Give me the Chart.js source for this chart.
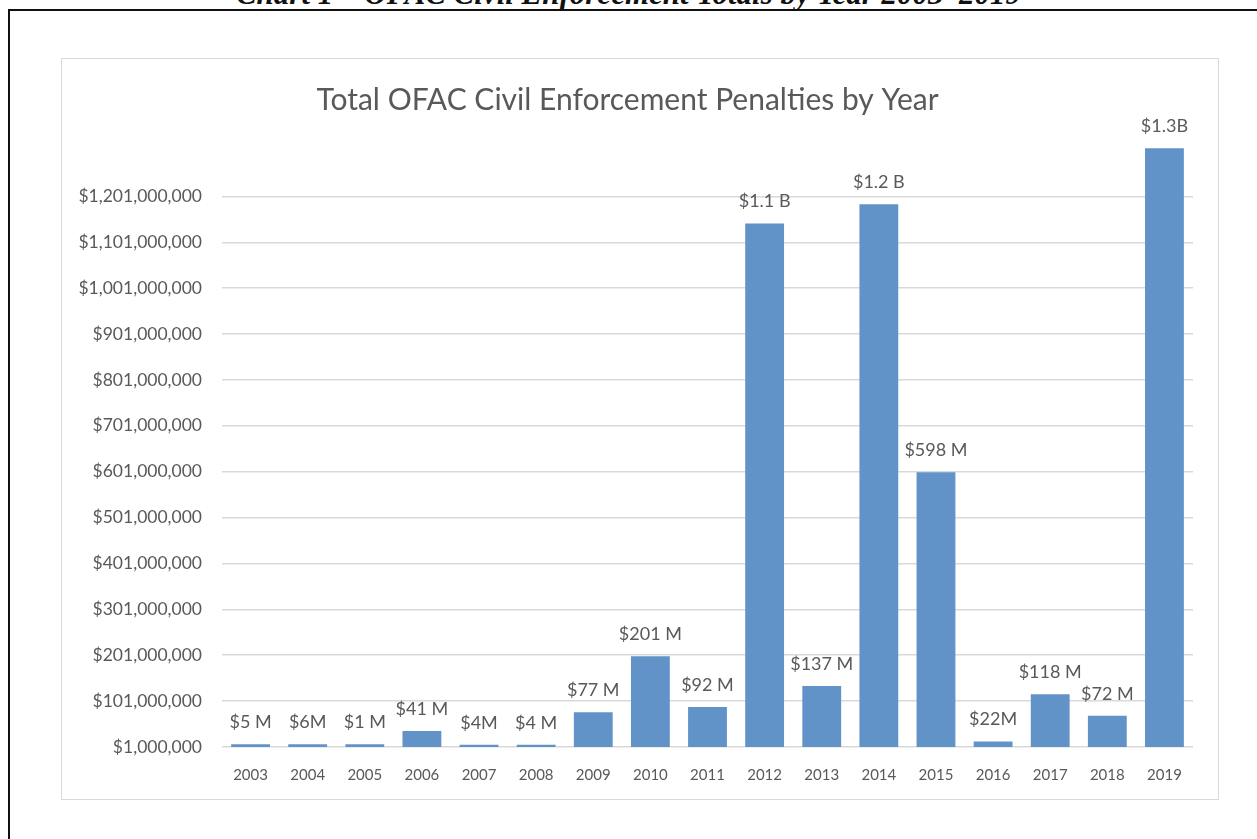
<!DOCTYPE html>
<html>
<head>
<meta charset="utf-8">
<script src="https://cdn.jsdelivr.net/npm/chart.js@4.4.0/dist/chart.umd.min.js"></script>
<style>
body { margin:0; background:#fff; width:1257px; height:839px; overflow:hidden; position:relative; }
#frame { position:absolute; left:8px; top:9px; width:1300px; height:900px; border-left:2px solid #111; border-top:2px solid #111; }
#caption { position:absolute; left:0; width:1257px; top:-24px; text-align:center; font: italic bold 31px "Liberation Serif"; color:#111; white-space:nowrap; }
#box { position:absolute; left:61px; top:58px; width:1156px; height:740px; border:1px solid #d9d9d9; }
</style>
</head>
<body>
<div id="caption">Chart 1 – OFAC Civil Enforcement Totals by Year 2003–2019</div>
<div id="frame"></div>
<div id="box"><canvas id="barPenalty"></canvas></div>
<script>
var years = ['2003','2004','2005','2006','2007','2008','2009','2010','2011','2012','2013','2014','2015','2016','2017','2018','2019'];
var penalties = [7000000, 7000000, 7000000, 36000000, 6000000, 6000000, 77000000, 199000000, 88000000, 1142000000, 134000000, 1184000000, 600000000, 13000000, 116000000, 69000000, 1306000000];
var valueLabels = ['$5 M','$6M','$1 M','$41 M','$4M','$4 M','$77 M','$201 M','$92 M','$1.1 B','$137 M','$1.2 B','$598 M','$22M','$118 M','$72 M','$1.3B'];
var yTicks = [1000000, 101000000, 201000000, 301000000, 401000000, 501000000, 601000000, 701000000, 801000000, 901000000, 1001000000, 1101000000, 1201000000];

var textGray = '#595959';

var barLabels = {
	id: 'barLabels',
	afterDatasetsDraw: function (chart) {
		var ctx = chart.ctx;
		var meta = chart.getDatasetMeta(0);
		ctx.save();
		ctx.fillStyle = textGray;
		ctx.font = '18px Lato';
		ctx.textAlign = 'center';
		ctx.textBaseline = 'middle';
		meta.data.forEach(function (bar, i) {
			ctx.fillText(valueLabels[i], bar.x, bar.y - 22);
		});
		ctx.restore();
	}
};

var ctx = document.getElementById('barPenalty');
var barGraph = new Chart(ctx, {
	type: 'bar',
	data: {
		labels: years,
		datasets: [{
			label: 'Penalties',
			backgroundColor: '#6193c9',
			borderWidth: 0,
			barPercentage: 0.68,
			categoryPercentage: 1,
			data: penalties
		}]
	},
	options: {
		responsive: true,
		maintainAspectRatio: false,
		animation: false,
		layout: { padding: { left: 0, right: 25, top: 0, bottom: 0 } },
		plugins: {
			legend: { display: false },
			tooltip: { enabled: false },
			title: {
				display: true,
				text: 'Total OFAC Civil Enforcement Penalties by Year',
				color: textGray,
				font: { family: 'Lato', size: 30, weight: 'normal' },
				padding: { top: 23, bottom: 28 }
			}
		},
		scales: {
			x: {
				grid: { display: false, drawTicks: false },
				border: { display: false },
				afterFit: function (scale) { scale.height = 52; },
				ticks: { padding: 19, color: textGray, font: { family: 'Lato', size: 15 } }
			},
			y: {
				min: 1000000,
				max: 1311000000,
				afterBuildTicks: function (scale) {
					scale.ticks = yTicks.map(function (v) { return { value: v }; });
				},
				afterFit: function (scale) { scale.width = 160; },
				border: { display: false },
				grid: { color: '#d9d9d9', lineWidth: 1.5, drawTicks: false },
				ticks: {
					padding: 20,
					color: textGray,
					font: { family: 'Lato', size: 17.5 },
					callback: function (v) { return '$' + v.toLocaleString('en-US'); }
				}
			}
		}
	},
	plugins: [barLabels]
});
</script>
</body>
</html>
